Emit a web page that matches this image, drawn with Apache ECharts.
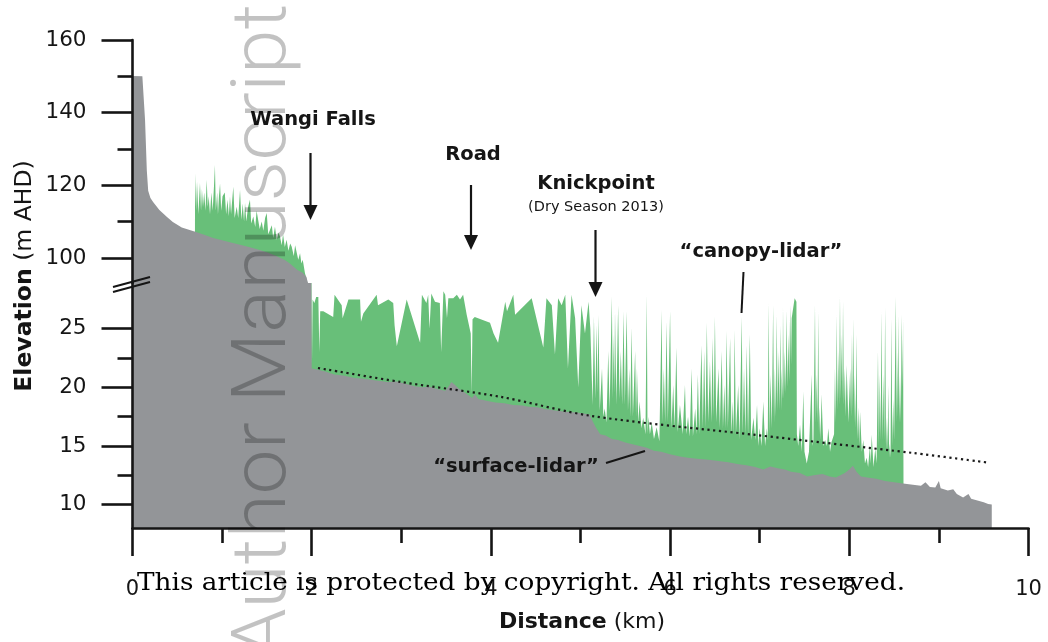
<!DOCTYPE html>
<html><head><meta charset="utf-8">
<script src="https://cdn.jsdelivr.net/npm/echarts@6.0.0/dist/echarts.min.js"></script>
<style>html,body{margin:0;padding:0;background:#fff}#c{width:1048px;height:642px}</style>
</head><body><div id="c"></div>
<script>
// ---------------- DATA (km, m AHD) ----------------
const surfaceProfile = [
[0,150.1],[0.11,150],[0.117,149.5],[0.14,138],[0.16,124],[0.175,118.5],[0.2,116.5],[0.23,115.4],[0.3,113.2],[0.385,111.3],[0.45,109.9],[0.55,108.4],[0.7,107.2],[0.8,106.4],[0.9,105.5],[1.0,104.9],[1.12,104.1],[1.2,103.6],[1.3,103.0],[1.4,102.3],[1.5,101.6],[1.6,100.6],[1.7,99.4],[1.76,98.4],[1.84,96.7],[1.9,95.9],[1.94,94.8],[1.96,93.0],[1.98,62],[1.995,30],
[2.0,21.6],[2.07,21.5],[2.15,21.35],[2.25,21.1],[2.35,21.0],[2.48,20.8],[2.6,20.7],[2.7,20.6],[2.85,20.45],[2.95,20.5],[3.05,20.3],[3.15,20.1],[3.23,20.0],[3.32,20.05],[3.4,19.85],[3.49,19.7],[3.53,20.1],[3.56,20.45],[3.6,20.2],[3.64,19.9],[3.7,19.6],[3.79,19.1],[3.82,19.4],[3.86,19.0],[3.95,18.85],[4.05,18.7],[4.15,18.65],[4.25,18.5],[4.35,18.45],[4.42,18.35],[4.52,18.3],[4.6,18.15],[4.7,18.05],[4.79,17.95],[4.88,17.9],[4.95,17.85],[5.05,17.75],[5.1,17.7],
[5.13,17.2],[5.17,16.6],[5.22,16.0],[5.28,15.9],[5.35,15.6],[5.42,15.5],[5.5,15.3],[5.58,15.15],[5.66,15.0],[5.74,14.85],[5.82,14.6],[5.9,14.5],[6.0,14.3],[6.11,14.1],[6.2,14.0],[6.3,13.9],[6.4,13.85],[6.5,13.75],[6.56,13.7],[6.65,13.6],[6.75,13.45],[6.85,13.35],[6.95,13.2],[7.04,13.0],[7.12,13.25],[7.2,13.1],[7.28,13.0],[7.35,12.8],[7.45,12.7],[7.53,12.4],[7.6,12.5],[7.7,12.6],[7.78,12.4],[7.85,12.3],[7.95,12.7],[8.0,13.0],[8.04,13.3],[8.08,12.8],[8.13,12.4],[8.2,12.3],[8.3,12.2],[8.4,12.0],[8.5,11.9],[8.6,11.8],[8.71,11.7],[8.8,11.6],[8.85,11.9],[8.9,11.5],[8.96,11.45],[9.0,12.0],[9.02,11.4],[9.1,11.2],[9.16,11.3],[9.2,10.9],[9.27,10.6],[9.33,10.9],[9.36,10.5],[9.43,10.35],[9.5,10.2],[9.55,10.05],[9.59,10.0]
];

const canopyUpper = [
[0.697,107],[0.698,123.3],[0.71,113],[0.72,121],[0.735,112],[0.753,120.6],[0.765,113],[0.775,119],[0.787,114],[0.80,118],[0.815,113],[0.828,121.5],[0.84,114],[0.85,117],[0.865,112],[0.88,118],[0.895,113],[0.91,120],[0.92,125.6],[0.93,113],[0.945,118],[0.954,112],[0.965,117],[0.977,120.5],[0.99,113],[1.005,117],[1.03,118],[1.045,112],[1.06,116],[1.075,111.5],[1.088,116.9],[1.10,112],[1.125,119.6],[1.14,111],[1.163,114.1],[1.18,111],[1.20,118.7],[1.215,110.5],[1.23,115],[1.245,110],[1.256,115.1],[1.27,110],[1.29,114],[1.311,116],[1.325,109.5],[1.348,111.4],[1.37,108.5],[1.385,113],[1.404,112.5],[1.42,108],[1.442,110],[1.46,107.5],[1.48,111],[1.498,112.4],[1.515,106.5],[1.535,106.9],[1.555,109],[1.57,105.5],[1.59,108.6],[1.61,105],[1.63,107],[1.646,105.9],[1.665,103.5],[1.68,106.5],[1.70,103],[1.72,105],[1.74,102],[1.76,104],[1.777,103.1],[1.80,100.5],[1.815,103.5],[1.833,103],[1.85,99.5],[1.87,101.3],[1.885,98.5],[1.90,99.5],[1.925,95.8],[1.94,94.5],[1.962,92],[1.99,40]
];

const canopyLower = [
[1.998,28.2],[2.003,22],[2.01,27.5],[2.03,27.2],[2.05,27.7],[2.074,27.7],[2.085,23.0],[2.095,26.5],[2.13,26.5],[2.24,26.0],[2.255,27.9],[2.335,27.0],[2.345,25.9],[2.41,27.5],[2.54,27.5],[2.55,25.6],[2.576,26.3],[2.725,27.9],[2.74,27.0],[2.855,27.5],[2.91,27.2],[2.925,25.3],[2.95,23.5],[3.06,27.5],[3.21,23.8],[3.23,27.9],[3.28,27.2],[3.30,27.9],[3.315,25.0],[3.335,28.0],[3.376,27.3],[3.43,27.2],[3.445,23.0],[3.47,28.2],[3.49,27.9],[3.51,25.9],[3.525,27.6],[3.58,27.6],[3.62,27.9],[3.655,27.5],[3.69,27.9],[3.73,26.2],[3.775,24.6],[3.785,19.4],[3.795,25.8],[3.82,26.0],[3.99,25.5],[4.03,24.6],[4.08,23.8],[4.16,27.3],[4.18,26.5],[4.25,27.9],[4.27,26.2],[4.455,27.6],[4.585,23.4],[4.62,27.6],[4.68,27.0],[4.715,22.8],[4.75,27.6],[4.79,27.0],[4.83,27.9],[4.86,21.6],[4.90,27.9],[4.94,25.9],[4.975,20.0],[5.01,27.0],[5.05,24.6],[5.09,27.3],[5.11,25.0],
[5.125,25.1],[5.135,18.5],[5.15,26.05],[5.165,19],[5.18,25.3],[5.19,19.5],[5.20,26.2],[5.215,18],[5.24,21.6],[5.255,17.5],[5.27,18.2],[5.29,17.0],[5.31,23.1],[5.325,18],[5.35,27.75],[5.36,19],[5.37,24.5],[5.378,19.5],[5.385,26.5],[5.40,18.5],[5.42,27.0],[5.435,19],[5.45,23.1],[5.465,18.5],[5.48,26.5],[5.495,18.5],[5.515,26.5],[5.53,18],[5.545,21.6],[5.555,17.5],[5.57,25.1],[5.585,17.5],[5.61,23.1],[5.62,17.5],[5.63,21.6],[5.645,17],[5.66,18.8],[5.68,16.5],[5.70,17.4],[5.725,16],[5.74,27.9],[5.748,16],[5.757,17.5],[5.775,16],[5.795,17.0],[5.82,15.6],[5.85,16.6],[5.88,15.4],
[5.906,26.6],[5.915,17],[5.93,21.6],[5.945,17],[5.96,25.6],[5.975,17],[6.0,26.5],[6.015,16.5],[6.035,20.2],[6.05,16.5],[6.07,23.4],[6.085,16.2],[6.11,18.5],[6.14,16.0],[6.166,20.2],[6.18,16.0],[6.20,17.5],[6.22,15.8],[6.24,21.6],[6.255,15.8],[6.28,18.2],[6.295,16],[6.31,21.1],[6.325,16],[6.35,23.6],[6.365,16.5],[6.38,23.1],[6.395,16.5],[6.41,25.5],[6.425,17],[6.445,22.2],[6.46,17],[6.475,24.2],[6.487,17.5],[6.50,26.05],[6.515,17],[6.54,21.6],[6.555,16.5],[6.576,23.1],[6.59,16.5],[6.605,20.2],[6.618,16.5],[6.63,24.8],[6.645,16.5],[6.67,24.2],[6.685,16],[6.70,18.8],[6.71,16],[6.72,24.9],[6.735,16],[6.76,20.2],[6.775,15.5],[6.80,26.05],[6.81,16],[6.825,21.6],[6.84,16],[6.855,23.6],[6.87,15.8],[6.89,24.5],[6.905,15.5],[6.93,17.4],[6.95,15.5],[6.97,18.5],[6.985,15],[7.00,16.5],[7.02,15],[7.04,18.8],[7.06,15],[7.08,16.5],[7.09,15.5],
[7.10,27.2],[7.11,16],[7.12,21.1],[7.135,16.5],[7.15,27.0],[7.16,17],[7.17,21.6],[7.18,17.5],[7.19,26.2],[7.20,18],[7.21,23.1],[7.22,18],[7.23,25.3],[7.24,18],[7.245,21.6],[7.255,19],[7.26,26.8],[7.27,19],[7.28,23.1],[7.29,19.5],[7.30,26.6],[7.31,20],[7.32,24.5],[7.33,20.5],[7.34,27.0],[7.35,22],[7.357,25.9],[7.39,27.6],[7.41,27.3],[7.415,16],[7.43,15],[7.45,16.8],[7.47,14.5],[7.487,19.65],[7.50,14.5],[7.525,13.5],[7.55,14.5],[7.58,21.1],[7.59,15],[7.60,15.5],[7.617,27.0],[7.627,17],[7.636,21.1],[7.645,17],[7.654,26.5],[7.662,16],[7.67,18.3],[7.68,15.5],[7.69,19.4],[7.71,15],[7.73,15.5],[7.75,15],[7.766,16.5],[7.785,14.5],[7.80,15.3],[7.82,15.4],[7.83,16],[7.84,21.6],[7.85,17],[7.86,26.2],[7.868,18],[7.877,23.1],[7.886,18.5],[7.896,27.75],[7.905,19],[7.915,24.5],[7.922,19],[7.93,27.3],[7.94,18.5],[7.95,21.6],[7.96,17.5],[7.97,21.9],[7.99,17],[8.01,21.6],[8.02,17.5],[8.03,24.5],[8.038,18],[8.045,25.9],[8.055,17],[8.06,21.1],[8.07,16.5],[8.08,24.5],[8.09,15.5],[8.10,18.3],[8.11,15],[8.12,17.9],[8.14,14.5],[8.156,15.5],[8.175,13.5],[8.194,14.0],[8.21,13.2],[8.23,15.0],[8.24,13.5],[8.25,15.96],[8.27,13.2],[8.29,14.8],[8.305,13.5],[8.32,23.1],[8.33,15],[8.34,21.1],[8.35,15.5],[8.36,26.5],[8.37,15.5],[8.38,21.1],[8.39,15.5],[8.40,26.8],[8.41,14.5],[8.42,17.4],[8.428,14.5],[8.435,20.2],[8.445,14],[8.45,15.2],[8.46,14],[8.47,25.9],[8.48,15],[8.49,19.0],[8.50,15.5],[8.52,27.75],[8.528,17],[8.535,23.1],[8.54,17.5],[8.547,26.2],[8.556,17],[8.566,21.1],[8.575,17],[8.585,26.2],[8.595,20],[8.60,25.9],[8.605,11.7]
];

const trendLine = [[2.07,21.65],[3.0,20.45],[4.1,19.2],[5.13,17.55],[6.93,15.96],[8.71,14.4],[9.53,13.6]];

const upperMajorTicks = [100,120,140,160];
const upperMinorTicks = [110,130,150];
const lowerMajorTicks = [10,15,20,25];
const lowerMinorTicks = [12.5,17.5,22.5];

// ---------------- CHART ----------------
const canopyProfile = canopyUpper.concat(canopyLower);
const FONT = '"DejaVu Sans", "Liberation Sans", Arial, sans-serif';
const INK = '#151515';
const GRAY = '#939598';
const GREEN = '#68bf79';

function measure(text, font) {
  const ctx = document.createElement('canvas').getContext('2d');
  ctx.font = font;
  return ctx.measureText(text).width;
}

const chart = echarts.init(document.getElementById('c'), null, {renderer: 'canvas'});

const LEFT = 132.5, WIDTH = 896;
const gridUpper = {left: LEFT, width: WIDTH, top: 40, height: 243};
const gridLower = {left: LEFT, width: WIDTH, top: 283, height: 245};

function yAxisDef(grid, min, max, ticks, len, labels) {
  return {
    type: 'value', gridIndex: grid, min: min, max: max, z: 5, position: 'left', offset: 0,
    axisLine: {show: labels, onZero: false, lineStyle: {color: INK, width: 2.6}},
    axisTick: {show: true, inside: false, length: len, customValues: ticks, lineStyle: {color: INK, width: 2.6}},
    axisLabel: {show: labels, customValues: ticks, margin: 46, fontSize: 21.5, fontFamily: FONT, color: INK},
    splitLine: {show: false}
  };
}

const copyText = 'This article is protected by copyright. All rights reserved.';
const copyFont = '25px "DejaVu Serif", "Liberation Serif", serif';
const copyScale = 768 / measure(copyText, copyFont);

const wmText = 'Author Manuscript';
const wmFont = '300 76px Roboto, "DejaVu Sans", sans-serif';
const wmScale = 655 / measure(wmText, wmFont);

function arrow(x, y1, y2) {
  return [
    {type: 'line', z: 50, shape: {x1: x, y1: y1, x2: x, y2: y2 - 12}, style: {stroke: INK, lineWidth: 2.2}},
    {type: 'polygon', z: 50, shape: {points: [[x - 7, y2 - 15], [x + 7, y2 - 15], [x, y2]]}, style: {fill: INK}}
  ];
}
function label(text, x, y, size, weight) {
  return {type: 'text', z: 50, x: x, y: y, style: {text: text, fill: INK, fontSize: size, fontWeight: weight, fontFamily: FONT, align: 'center', verticalAlign: 'middle', textAlign: 'center', textVerticalAlign: 'middle'}};
}

const graphics = [].concat(
  [label('Wangi Falls', 313, 120, 19.5, 'bold')],
  arrow(310.5, 153, 220),
  [label('Road', 473, 155, 19.5, 'bold')],
  arrow(471, 185, 250),
  [label('Knickpoint', 596, 184, 19.5, 'bold'), label('(Dry Season 2013)', 596, 207, 14.5, 'normal')],
  arrow(595.5, 230, 297),
  [label('\u201Ccanopy-lidar\u201D', 761, 252, 19.5, 'bold'),
   {type: 'line', z: 50, shape: {x1: 743.5, y1: 272, x2: 741.5, y2: 313}, style: {stroke: INK, lineWidth: 2}},
   label('\u201Csurface-lidar\u201D', 516, 467, 19.5, 'bold'),
   {type: 'line', z: 50, shape: {x1: 606, y1: 463, x2: 645, y2: 451}, style: {stroke: INK, lineWidth: 2}},
   // axis break marks
   {type: 'line', z: 60, shape: {x1: 113, y1: 287, x2: 150, y2: 277}, style: {stroke: INK, lineWidth: 2}},
   {type: 'line', z: 60, shape: {x1: 113, y1: 292, x2: 150, y2: 282}, style: {stroke: INK, lineWidth: 2}},
   // axis names
   {type: 'text', z: 50, x: 25, y: 276, rotation: Math.PI / 2,
    style: {text: '{b|Elevation} {n|(m AHD)}', fill: INK, fontFamily: FONT, fontSize: 23.5, align: 'center', verticalAlign: 'middle', textAlign: 'center', textVerticalAlign: 'middle',
      rich: {b: {fontWeight: 'bold', fontSize: 23.5, fontFamily: FONT, fill: INK, color: INK}, n: {fontSize: 23.5, fontFamily: FONT, fill: INK, color: INK}}}},
   {type: 'text', z: 50, x: 582, y: 622,
    style: {text: '{b|Distance} {n|(km)}', fill: INK, fontFamily: FONT, fontSize: 22, align: 'center', verticalAlign: 'middle', textAlign: 'center', textVerticalAlign: 'middle',
      rich: {b: {fontWeight: 'bold', fontSize: 22, fontFamily: FONT, fill: INK, color: INK}, n: {fontSize: 22, fontFamily: FONT, fill: INK, color: INK}}}},
   // watermark
   {type: 'text', z: 80, x: 266, y: 331, rotation: Math.PI / 2, scaleX: wmScale,
    style: {text: wmText, font: wmFont, fill: 'rgba(0,0,0,0.24)', align: 'center', verticalAlign: 'middle', textAlign: 'center', textVerticalAlign: 'middle'}},
   // copyright line
   {type: 'text', z: 90, x: 137, y: 583, scaleX: copyScale,
    style: {text: copyText, font: copyFont, fill: '#000', align: 'left', verticalAlign: 'middle', textAlign: 'left', textVerticalAlign: 'middle'}}
  ]
);

const areaSeries = (data, xi, yi, color, z) => ({
  type: 'line', data: data, xAxisIndex: xi, yAxisIndex: yi, z: z,
  symbol: 'none', showSymbol: false, smooth: false, clip: true, silent: true,
  lineStyle: {width: 0, opacity: 0},
  areaStyle: {color: color, opacity: 1, origin: 'start'}
});

chart.setOption({
  animation: false,
  backgroundColor: '#ffffff',
  grid: [gridUpper, gridLower],
  xAxis: [
    {type: 'value', gridIndex: 0, min: 0, max: 10, show: false},
    {type: 'value', gridIndex: 1, min: 0, max: 10, interval: 2, z: 5,
     axisLine: {onZero: false, lineStyle: {color: INK, width: 2.6}},
     axisTick: {length: 28, lineStyle: {color: INK, width: 2.6}},
     minorTick: {show: true, splitNumber: 2, length: 15, lineStyle: {color: INK, width: 2.6}},
     axisLabel: {margin: 51, fontSize: 21, fontFamily: FONT, color: INK},
     splitLine: {show: false}, minorSplitLine: {show: false}}
  ],
  yAxis: [
    yAxisDef(0, 93.1, 160, upperMajorTicks, 31, true),
    yAxisDef(0, 93.1, 160, upperMinorTicks, 15, false),
    yAxisDef(1, 8, 28.9, lowerMajorTicks, 31, true),
    yAxisDef(1, 8, 28.9, lowerMinorTicks, 15, false)
  ],
  series: [
    areaSeries(canopyProfile, 0, 0, GREEN, 2),
    areaSeries(surfaceProfile, 0, 0, GRAY, 3),
    areaSeries(canopyProfile, 1, 2, GREEN, 2),
    areaSeries(surfaceProfile, 1, 2, GRAY, 3),
    {type: 'line', data: trendLine, xAxisIndex: 1, yAxisIndex: 2, z: 4, symbol: 'none', smooth: 0.3, silent: true,
     lineStyle: {color: '#1a1a1a', width: 2.2, type: [2.2, 3.6]}}
  ],
  graphic: graphics
});
</script>
</body></html>
